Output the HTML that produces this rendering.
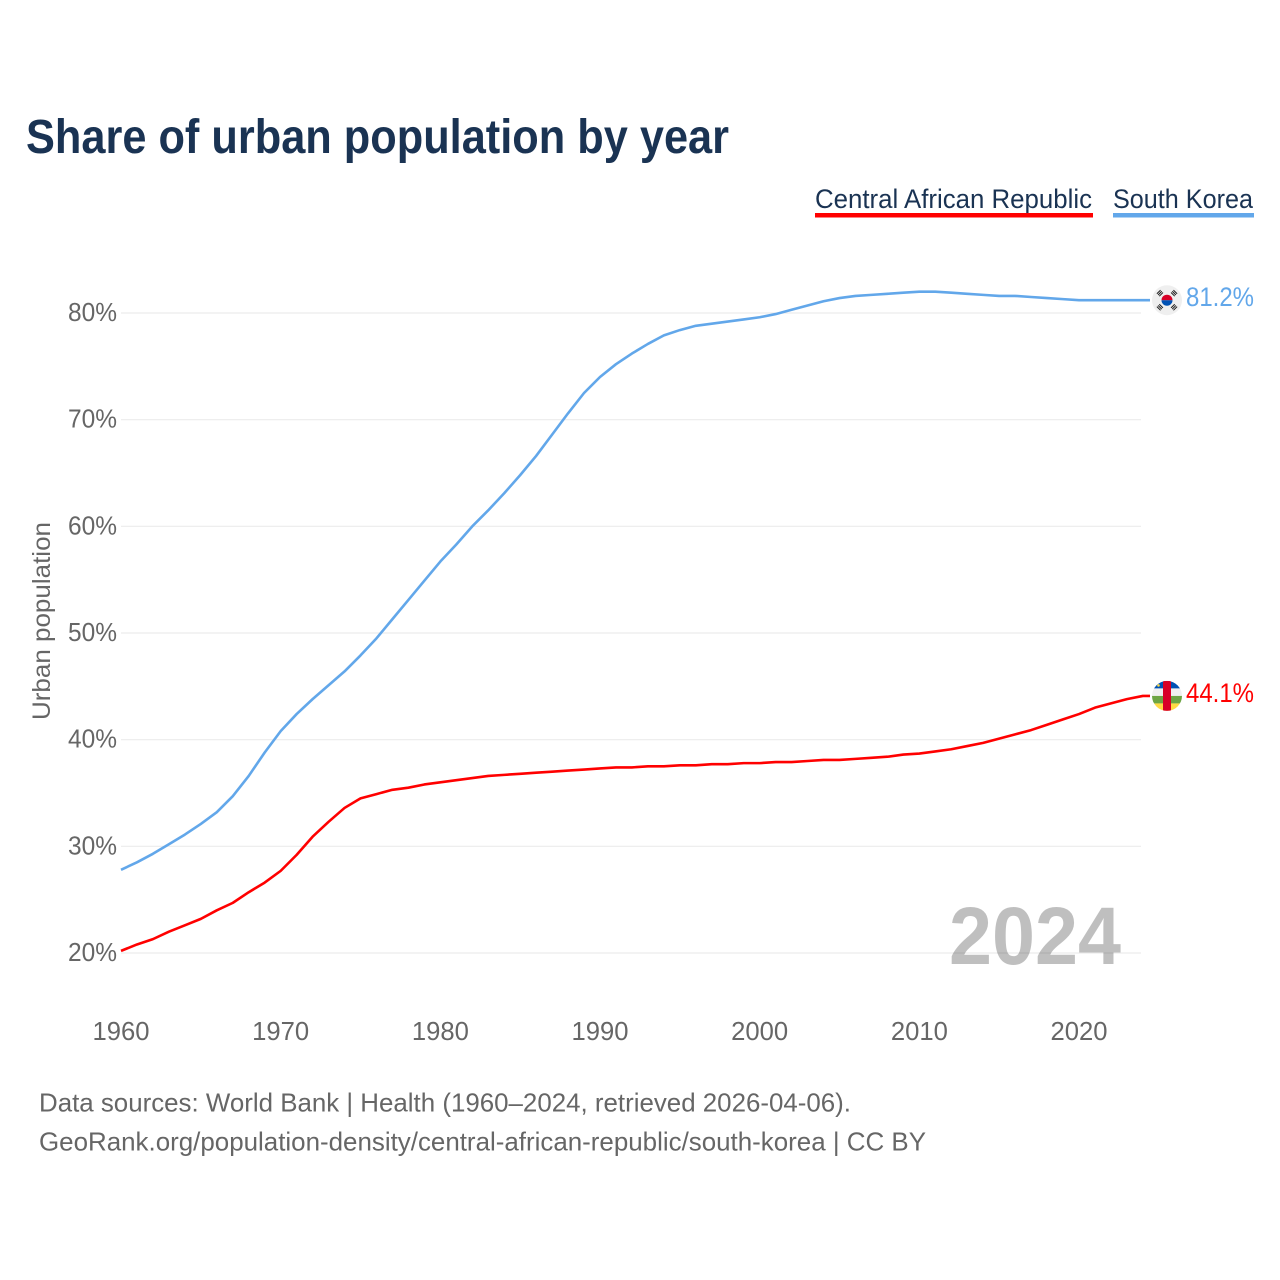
<!DOCTYPE html>
<html lang="en">
<head>
<meta charset="utf-8">
<title>Share of urban population by year</title>
<style>
html,body{margin:0;padding:0;background:#fff;width:1280px;height:1280px;overflow:hidden}
svg{display:block}
text{font-family:"Liberation Sans",sans-serif}
</style>
</head>
<body>
<svg id="chart" xmlns="http://www.w3.org/2000/svg" width="1280" height="1280" viewBox="0 0 1280 1280">
  <text x="26" y="153" font-size="48" font-weight="700" fill="#1a3353" textLength="703" lengthAdjust="spacingAndGlyphs">Share of urban population by year</text>
  <g>
    <g>
      <text x="815" y="208" font-size="27" fill="#1a3353" textLength="277" lengthAdjust="spacingAndGlyphs">Central African Republic</text>
      <rect x="815" y="213" width="278" height="4.5" fill="#ff0000"/>
    </g>
    <g>
      <text x="1113" y="208" font-size="27" fill="#1a3353" textLength="140" lengthAdjust="spacingAndGlyphs">South Korea</text>
      <rect x="1113" y="213" width="141" height="4.5" fill="#62a7ea"/>
    </g>
  </g>
  <g id="grid"></g>
  <g id="yticks"></g>
  <g id="xticks"></g>
  <text transform="translate(50,621) rotate(-90)" text-anchor="middle" font-size="25" fill="#666666" textLength="198" lengthAdjust="spacingAndGlyphs">Urban population</text>
  <text x="949" y="964" font-size="82" font-weight="700" fill="#000000" fill-opacity="0.25" textLength="172" lengthAdjust="spacingAndGlyphs">2024</text>
  <g id="series"></g>
  <g id="endmarks"></g>
  <g>
    <text x="39" y="1111.5" font-size="26" fill="#666666" textLength="812" lengthAdjust="spacingAndGlyphs">Data sources: World Bank | Health (1960–2024, retrieved 2026-04-06).</text>
    <text x="39" y="1150.5" font-size="26" fill="#666666" textLength="887" lengthAdjust="spacingAndGlyphs">GeoRank.org/population-density/central-african-republic/south-korea | CC BY</text>
  </g>
</svg>
<script>
const startYear = 1960;
const xTickLabels = [1960, 1970, 1980, 1990, 2000, 2010, 2020];
const yTickLabels = [20, 30, 40, 50, 60, 70, 80];
const southKorea = [27.8,28.5,29.3,30.2,31.1,32.1,33.2,34.7,36.6,38.8,40.8,42.4,43.8,45.1,46.4,47.9,49.5,51.3,53.1,54.9,56.7,58.3,60.0,61.5,63.1,64.8,66.6,68.6,70.6,72.5,74.0,75.2,76.2,77.1,77.9,78.4,78.8,79.0,79.2,79.4,79.6,79.9,80.3,80.7,81.1,81.4,81.6,81.7,81.8,81.9,82.0,82.0,81.9,81.8,81.7,81.6,81.6,81.5,81.4,81.3,81.2,81.2,81.2,81.2,81.2];
const centralAfricanRepublic = [20.2,20.8,21.3,22.0,22.6,23.2,24.0,24.7,25.7,26.6,27.7,29.2,30.9,32.3,33.6,34.5,34.9,35.3,35.5,35.8,36.0,36.2,36.4,36.6,36.7,36.8,36.9,37.0,37.1,37.2,37.3,37.4,37.4,37.5,37.5,37.6,37.6,37.7,37.7,37.8,37.8,37.9,37.9,38.0,38.1,38.1,38.2,38.3,38.4,38.6,38.7,38.9,39.1,39.4,39.7,40.1,40.5,40.9,41.4,41.9,42.4,43.0,43.4,43.8,44.1];

const NS = 'http://www.w3.org/2000/svg';
const xScale = function (year) { return 121 + (year - 1960) * (958 / 60); };
const yScale = function (pct) { return 953 - (pct - 20) * (640 / 60); };

function make(tag, parent, attrs) {
  const el = document.createElementNS(NS, tag);
  for (const k in attrs) el.setAttribute(k, attrs[k]);
  parent.appendChild(el);
  return el;
}

const grid = document.getElementById('grid');
const yticks = document.getElementById('yticks');
const xticks = document.getElementById('xticks');
const seriesGroup = document.getElementById('series');
const endmarks = document.getElementById('endmarks');

yTickLabels.forEach(function (v) {
  const line = make('line', grid, {x1: 121, x2: 1141, y1: yScale(v), y2: yScale(v), stroke: '#ececec', 'stroke-width': 1.2});
  
  
  const t = make('text', yticks, {x: 117, y: yScale(v) + 8, 'text-anchor': 'end', 'font-size': 26, fill: '#666666', textLength: 49, lengthAdjust: 'spacingAndGlyphs'});
  t.textContent = v + '%';
  
  
});

xTickLabels.forEach(function (v) {
  const t = make('text', xticks, {x: xScale(v), y: 1040, 'text-anchor': 'middle', 'font-size': 26, fill: '#666666', textLength: 57, lengthAdjust: 'spacingAndGlyphs'});
  t.textContent = v;
  
  
});

function drawLine(values, color, name) {
  const pts = values.map(function (v, i) {
    return xScale(startYear + i).toFixed(2) + ',' + yScale(v).toFixed(2);
  });
  const last = yScale(values[values.length - 1]).toFixed(2);
  pts.push('1150,' + last);
  const p = make('polyline', seriesGroup, {points: pts.join(' '), fill: 'none', stroke: color, 'stroke-width': 2.6, 'stroke-linejoin': 'round', 'stroke-linecap': 'butt'});
  
  
}
drawLine(southKorea, '#62a7ea', 'line-south-korea');
drawLine(centralAfricanRepublic, '#ff0000', 'line-central-african-republic');

function endLabel(value, color, name) {
  const t = make('text', endmarks, {x: 1186, y: yScale(value) + 6, 'font-size': 27, fill: color, textLength: 68, lengthAdjust: 'spacingAndGlyphs'});
  t.textContent = value.toFixed(1) + '%';
  
  
}

/* South Korea flag */
(function () {
  const cy = yScale(southKorea[southKorea.length - 1]);
  const g = make('g', endmarks, {transform: 'translate(1167,' + cy + ')'});
  
  
  make('circle', g, {r: 15, fill: '#efefef'});
  make('path', g, {d: 'M-5.5 0A5.5 5.5 0 0 1 5.5 0Z', fill: '#d80027'});
  make('path', g, {d: 'M-5.5 0A5.5 5.5 0 0 0 5.5 0Z', fill: '#0052b4'});
  [-45, 45, 135, 225].forEach(function (angle) {
    const tri = make('g', g, {transform: 'rotate(' + angle + ') translate(0,-10)'});
    [-1.7, 0, 1.7].forEach(function (off) {
      make('rect', tri, {x: -2.6, y: off - 0.5, width: 5.2, height: 1, fill: '#222222'});
    });
  });
})();
endLabel(southKorea[southKorea.length - 1], '#62a7ea', 'value-label-south-korea');

/* Central African Republic flag */
(function () {
  const cy = yScale(centralAfricanRepublic[centralAfricanRepublic.length - 1]);
  const g = make('g', endmarks, {transform: 'translate(1167,' + cy + ')'});
  
  
  const clip = make('clipPath', g, {id: 'caf-clip'});
  make('circle', clip, {r: 15});
  const inner = make('g', g, {'clip-path': 'url(#caf-clip)'});
  make('rect', inner, {x: -15, y: -15, width: 30, height: 7.5, fill: '#0052b4'});
  make('rect', inner, {x: -15, y: -7.5, width: 30, height: 7.5, fill: '#f0f0f0'});
  make('rect', inner, {x: -15, y: 0, width: 30, height: 7.5, fill: '#6da544'});
  make('rect', inner, {x: -15, y: 7.5, width: 30, height: 7.5, fill: '#ffda44'});
  make('rect', inner, {x: -4, y: -15, width: 8, height: 30, fill: '#d80027'});
  make('circle', inner, {cx: -8.5, cy: -10.5, r: 1.3, fill: '#ffda44'});
})();
endLabel(centralAfricanRepublic[centralAfricanRepublic.length - 1], '#ff0000', 'value-label-central-african-republic');
</script>
</body>
</html>
